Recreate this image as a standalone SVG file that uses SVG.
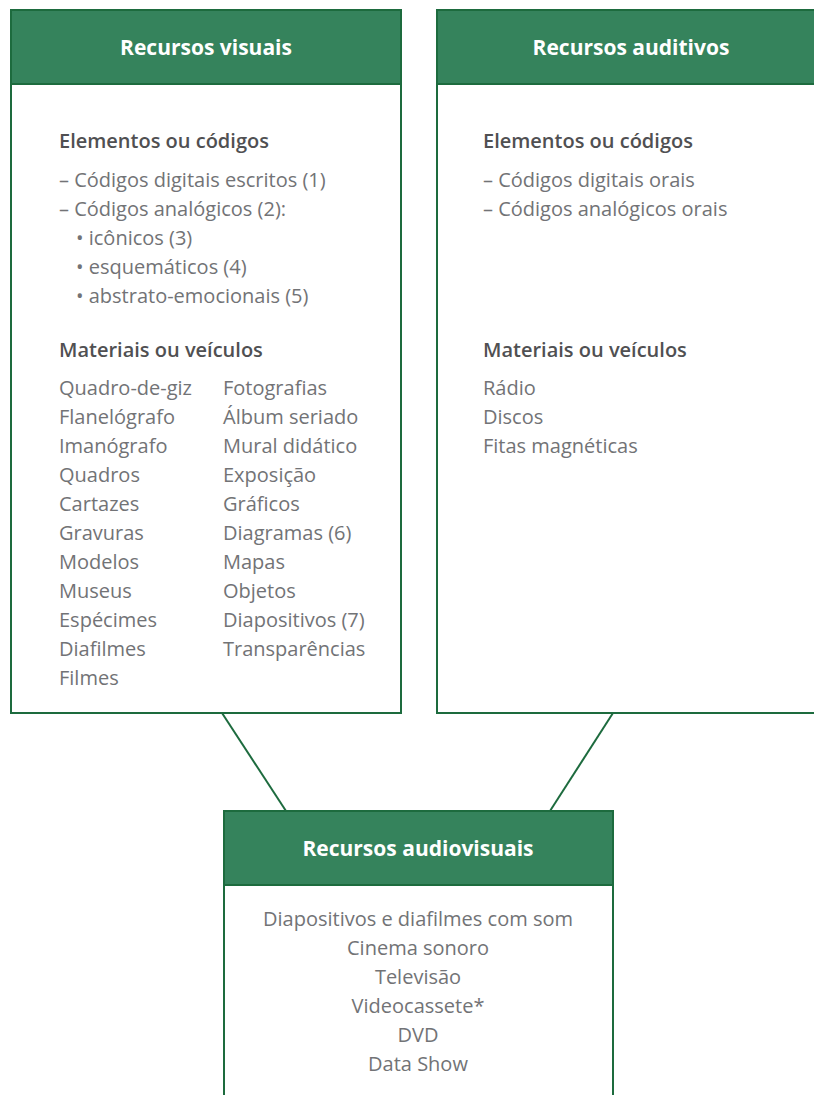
<svg xmlns="http://www.w3.org/2000/svg" width="814" height="1095" viewBox="0 0 814 1095">
<style>
.box{fill:#fff;stroke:#1d6b3e;stroke-width:2}
.hdr{fill:#35835c;stroke:#1d6b3e;stroke-width:2}
.title{font-family:"Open Sans","Liberation Sans",sans-serif;font-size:21px;font-weight:bold;fill:#fff;text-anchor:middle}
.h{font-family:"Open Sans","Liberation Sans",sans-serif;font-size:20px;font-weight:600;fill:#505052}
.t{font-family:"Open Sans","Liberation Sans",sans-serif;font-size:20px;fill:#727376}
.c{text-anchor:middle}
.edge{stroke:#1d6b3e;stroke-width:2;fill:none}
</style>
<g id="connectors">
<line class="edge" x1="222" y1="713" x2="286" y2="811"/>
<line class="edge" x1="613" y1="713" x2="550" y2="811"/>
</g>
<g id="visuais">
<rect class="box" x="11" y="10" width="390" height="703"/>
<rect class="hdr" x="11" y="10" width="390" height="74"/>
<text class="title" x="206" y="55">Recursos visuais</text>
<text class="h" x="59" y="148">Elementos ou códigos</text>
<text class="t" x="59" y="187">– Códigos digitais escritos (1)</text>
<text class="t" x="59" y="216">– Códigos analógicos (2):</text>
<text class="t" x="76" y="245">• icônicos (3)</text>
<text class="t" x="76" y="274">• esquemáticos (4)</text>
<text class="t" x="76" y="303">• abstrato-emocionais (5)</text>
<text class="h" x="59" y="357">Materiais ou veículos</text>
<text class="t" x="59" y="395">Quadro-de-giz</text>
<text class="t" x="59" y="424">Flanelógrafo</text>
<text class="t" x="59" y="453">Imanógrafo</text>
<text class="t" x="59" y="482">Quadros</text>
<text class="t" x="59" y="511">Cartazes</text>
<text class="t" x="59" y="540">Gravuras</text>
<text class="t" x="59" y="569">Modelos</text>
<text class="t" x="59" y="598">Museus</text>
<text class="t" x="59" y="627">Espécimes</text>
<text class="t" x="59" y="656">Diafilmes</text>
<text class="t" x="59" y="685">Filmes</text>
<text class="t" x="223" y="395">Fotografias</text>
<text class="t" x="223" y="424">Álbum seriado</text>
<text class="t" x="223" y="453">Mural didático</text>
<text class="t" x="223" y="482">Exposição</text>
<text class="t" x="223" y="511">Gráficos</text>
<text class="t" x="223" y="540">Diagramas (6)</text>
<text class="t" x="223" y="569">Mapas</text>
<text class="t" x="223" y="598">Objetos</text>
<text class="t" x="223" y="627">Diapositivos (7)</text>
<text class="t" x="223" y="656">Transparências</text>
</g>
<g id="auditivos">
<rect class="box" x="437" y="10" width="390" height="703"/>
<rect class="hdr" x="437" y="10" width="390" height="74"/>
<text class="title" x="631" y="55">Recursos auditivos</text>
<text class="h" x="483" y="148">Elementos ou códigos</text>
<text class="t" x="483" y="187">– Códigos digitais orais</text>
<text class="t" x="483" y="216">– Códigos analógicos orais</text>
<text class="h" x="483" y="357">Materiais ou veículos</text>
<text class="t" x="483" y="395">Rádio</text>
<text class="t" x="483" y="424">Discos</text>
<text class="t" x="483" y="453">Fitas magnéticas</text>
</g>
<g id="audiovisuais">
<rect class="box" x="224" y="811" width="389" height="300"/>
<rect class="hdr" x="224" y="811" width="389" height="74"/>
<text class="title" x="418" y="856">Recursos audiovisuais</text>
<text class="t c" x="418" y="926">Diapositivos e diafilmes com som</text>
<text class="t c" x="418" y="955">Cinema sonoro</text>
<text class="t c" x="418" y="984">Televisão</text>
<text class="t c" x="418" y="1013">Videocassete*</text>
<text class="t c" x="418" y="1042">DVD</text>
<text class="t c" x="418" y="1071">Data Show</text>
</g>
</svg>
